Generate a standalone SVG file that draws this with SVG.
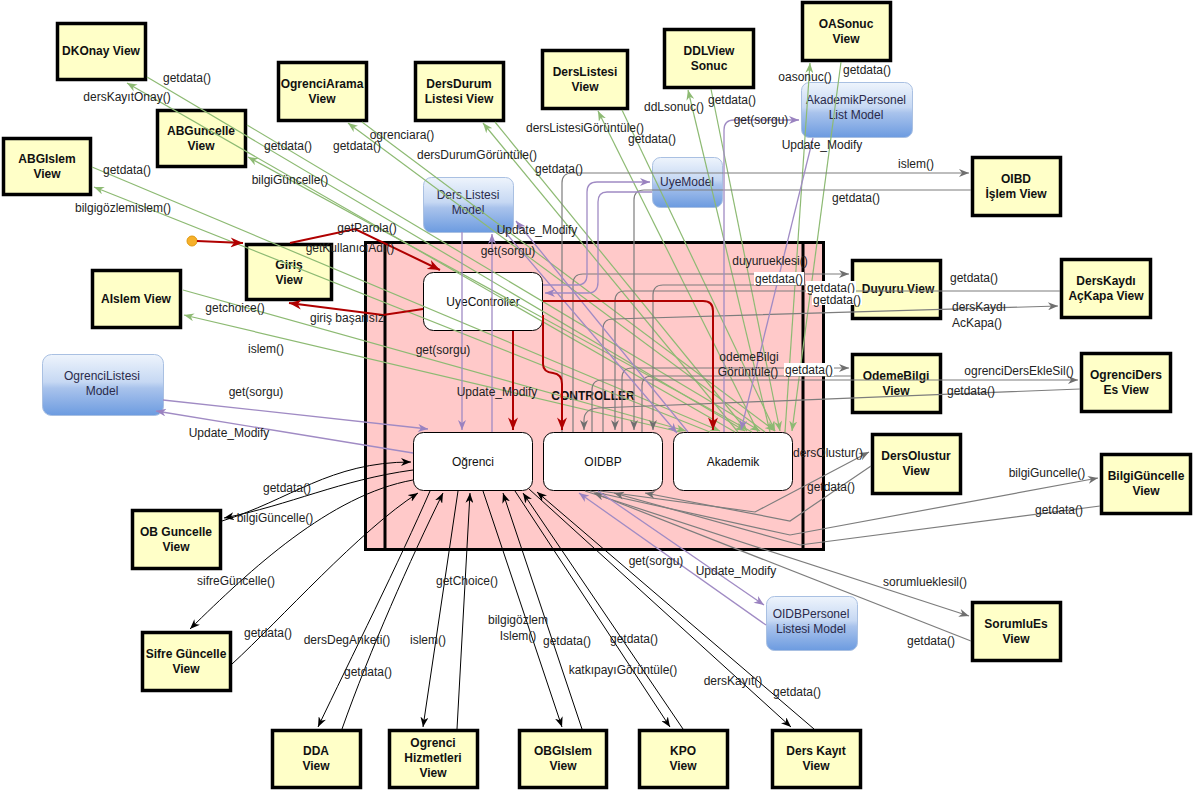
<svg xmlns="http://www.w3.org/2000/svg" width="1194" height="794" viewBox="0 0 1194 794">
<defs>
<style>
.view{fill:#ffffc8;stroke:#000;stroke-width:3.5}
.vt{font-family:"Liberation Sans",Arial,sans-serif;font-size:12px;font-weight:bold;fill:#111;text-anchor:middle}
.model{fill:url(#mg);stroke:#a9c0e2;stroke-width:1}
.mt{font-family:"Liberation Sans",Arial,sans-serif;font-size:12px;fill:#2a2a4a;text-anchor:middle}
.inner{fill:#fff;stroke:#000;stroke-width:1}
.it{font-family:"Liberation Sans",Arial,sans-serif;font-size:12px;fill:#111;text-anchor:middle}
.lb{font-family:"Liberation Sans",Arial,sans-serif;font-size:12px;fill:#222;text-anchor:middle}
.g{fill:none;stroke:#8dba73;stroke-width:1.2}
.gr{fill:none;stroke:#7d7d7d;stroke-width:1.2}
.p{fill:none;stroke:#a08bc4;stroke-width:1.3}
.k{fill:none;stroke:#000;stroke-width:1}
.r{fill:none;stroke:#b00000;stroke-width:2}
</style>
<linearGradient id="mg" x1="0" y1="0" x2="0" y2="1">
<stop offset="0" stop-color="#eef4fc"/>
<stop offset="0.45" stop-color="#c6d8f3"/>
<stop offset="0.55" stop-color="#a9c3ec"/>
<stop offset="1" stop-color="#6c9be0"/>
</linearGradient>
<marker id="ag" viewBox="0 0 10 8" refX="10" refY="4" markerWidth="10" markerHeight="8" markerUnits="userSpaceOnUse" orient="auto"><path d="M0,0 L10,4 L0,8 L3,4 z" fill="#8dba73"/></marker>
<marker id="agr" viewBox="0 0 10 8" refX="10" refY="4" markerWidth="11" markerHeight="8" markerUnits="userSpaceOnUse" orient="auto"><path d="M0,0 L10,4 L0,8 L3,4 z" fill="#6f6f6f"/></marker>
<marker id="ap" viewBox="0 0 10 8" refX="10" refY="4" markerWidth="11" markerHeight="8" markerUnits="userSpaceOnUse" orient="auto"><path d="M0,0 L10,4 L0,8 L3,4 z" fill="#9a82c0"/></marker>
<marker id="ak" viewBox="0 0 10 8" refX="10" refY="4" markerWidth="10" markerHeight="8" markerUnits="userSpaceOnUse" orient="auto"><path d="M0,0 L10,4 L0,8 L3,4 z" fill="#000"/></marker>
<marker id="ar" viewBox="0 0 10 8" refX="10" refY="4" markerWidth="13" markerHeight="10" markerUnits="userSpaceOnUse" orient="auto"><path d="M0,0 L10,4 L0,8 L3,4 z" fill="#b00000"/></marker>
</defs>
<rect width="1194" height="794" fill="#fff"/>

<g id="controller">
<rect x="365.5" y="242.5" width="458" height="307" fill="#ffc9c9" stroke="#000" stroke-width="3"/>
<line x1="385" y1="242" x2="385" y2="550" stroke="#000" stroke-width="3"/>
<line x1="803" y1="242" x2="803" y2="550" stroke="#000" stroke-width="3"/>
<text x="593" y="400" font-family="Liberation Sans,Arial,sans-serif" font-size="12" font-weight="bold" fill="#111" text-anchor="middle">CONTROLLER</text>
</g>
<g id="UyeController"><rect class="inner" x="423.5" y="272.5" width="119" height="58" rx="10"/><text class="it" x="483" y="306">UyeController</text></g>
<g id="Ogrenci"><rect class="inner" x="413.5" y="432.5" width="119" height="58" rx="10"/><text class="it" x="473" y="466">Oğrenci</text></g>
<g id="OIDBP"><rect class="inner" x="543.5" y="432.5" width="119" height="58" rx="10"/><text class="it" x="603" y="466">OIDBP</text></g>
<g id="Akademik"><rect class="inner" x="673.5" y="432.5" width="119" height="58" rx="10"/><text class="it" x="733" y="466">Akademik</text></g>

<g id="DersListesiModel"><rect class="model" x="423.5" y="177.5" width="90" height="55" rx="8"/><text class="mt" x="468" y="199">Ders Listesi</text><text class="mt" x="468" y="214">Model</text></g>
<g id="UyeModel"><rect class="model" x="652.5" y="157.5" width="70" height="50" rx="8"/><text class="mt" x="687" y="186">UyeModel</text></g>
<g id="AkademikPersonelListModel"><rect class="model" x="801.5" y="82.5" width="111" height="55" rx="8"/><text class="mt" x="856" y="104">AkademikPersonel</text><text class="mt" x="856" y="119">List Model</text></g>
<g id="OgrenciListesiModel"><rect class="model" x="42.5" y="354.5" width="121" height="61" rx="9"/><text class="mt" x="102" y="380">OgrenciListesi</text><text class="mt" x="102" y="395">Model</text></g>
<g id="OIDBPersonelListesiModel"><rect class="model" x="766.5" y="596.5" width="91" height="54" rx="8"/><text class="mt" x="811" y="618">OIDBPersonel</text><text class="mt" x="811" y="633">Listesi Model</text></g>

<g id="DKOnayView"><rect class="view" x="57.5" y="23.5" width="88" height="56"/><text class="vt" x="101" y="55">DKOnay View</text></g>
<g id="ABGuncelleView"><rect class="view" x="157.5" y="110.5" width="88" height="56"/><text class="vt" x="201" y="135">ABGuncelle</text><text class="vt" x="201" y="150">View</text></g>
<g id="ABGIslemView"><rect class="view" x="3.5" y="138.5" width="87" height="56"/><text class="vt" x="47" y="163">ABGIslem</text><text class="vt" x="47" y="178">View</text></g>
<g id="OgrenciAramaView"><rect class="view" x="278.5" y="62.5" width="88" height="58"/><text class="vt" x="322" y="88">OgrenciArama</text><text class="vt" x="322" y="103">View</text></g>
<g id="DersDurumListesiView"><rect class="view" x="415.5" y="62.5" width="88" height="58"/><text class="vt" x="459" y="88">DersDurum</text><text class="vt" x="459" y="103">Listesi View</text></g>
<g id="DersListesiView"><rect class="view" x="542.5" y="50.5" width="85" height="58"/><text class="vt" x="585" y="76">DersListesi</text><text class="vt" x="585" y="91">View</text></g>
<g id="DDLViewSonuc"><rect class="view" x="664.5" y="29.5" width="89" height="58"/><text class="vt" x="709" y="55">DDLView</text><text class="vt" x="709" y="70">Sonuc</text></g>
<g id="OASonucView"><rect class="view" x="802.5" y="2.5" width="88" height="58"/><text class="vt" x="846" y="28">OASonuc</text><text class="vt" x="846" y="43">View</text></g>
<g id="OIBDIslemView"><rect class="view" x="972.5" y="157.5" width="88" height="58"/><text class="vt" x="1016" y="183">OIBD</text><text class="vt" x="1016" y="198">İşlem View</text></g>
<g id="GirisView"><rect class="view" x="246.5" y="244.5" width="85" height="55"/><text class="vt" x="289" y="269">Giriş</text><text class="vt" x="289" y="284">View</text></g>
<g id="AIslemView"><rect class="view" x="92.5" y="270.5" width="88" height="57"/><text class="vt" x="136" y="303">AIslem View</text></g>
<g id="OBGuncelleView"><rect class="view" x="132.5" y="510.5" width="88" height="58"/><text class="vt" x="176" y="536">OB Guncelle</text><text class="vt" x="176" y="551">View</text></g>
<g id="SifreGuncelleView"><rect class="view" x="142.5" y="632.5" width="88" height="58"/><text class="vt" x="186" y="658">Sifre Güncelle</text><text class="vt" x="186" y="673">View</text></g>
<g id="DDAView"><rect class="view" x="272.5" y="730.5" width="88" height="57"/><text class="vt" x="316" y="755">DDA</text><text class="vt" x="316" y="770">View</text></g>
<g id="OgrenciHizmetleriView"><rect class="view" x="389.5" y="730.5" width="88" height="57"/><text class="vt" x="433" y="747">Ogrenci</text><text class="vt" x="433" y="762">Hizmetleri</text><text class="vt" x="433" y="777">View</text></g>
<g id="OBGIslemView"><rect class="view" x="519.5" y="730.5" width="87" height="57"/><text class="vt" x="563" y="755">OBGIslem</text><text class="vt" x="563" y="770">View</text></g>
<g id="KPOView"><rect class="view" x="639.5" y="730.5" width="88" height="57"/><text class="vt" x="683" y="755">KPO</text><text class="vt" x="683" y="770">View</text></g>
<g id="DersKayitView"><rect class="view" x="772.5" y="730.5" width="88" height="57"/><text class="vt" x="816" y="755">Ders Kayıt</text><text class="vt" x="816" y="770">View</text></g>
<g id="SorumluEsView"><rect class="view" x="972.5" y="602.5" width="88" height="58"/><text class="vt" x="1016" y="628">SorumluEs</text><text class="vt" x="1016" y="643">View</text></g>
<g id="BilgiGuncelleView"><rect class="view" x="1101.5" y="454.5" width="89" height="59"/><text class="vt" x="1146" y="480">BilgiGüncelle</text><text class="vt" x="1146" y="495">View</text></g>
<g id="DersOlusturView"><rect class="view" x="872.5" y="434.5" width="88" height="59"/><text class="vt" x="916" y="460">DersOlustur</text><text class="vt" x="916" y="475">View</text></g>
<g id="OgrenciDersEsView"><rect class="view" x="1081.5" y="353.5" width="89" height="58"/><text class="vt" x="1126" y="379">OgrenciDers</text><text class="vt" x="1126" y="394">Es View</text></g>
<g id="OdemeBilgiView"><rect class="view" x="852.5" y="354.5" width="88" height="58"/><text class="vt" x="896" y="380">OdemeBilgi</text><text class="vt" x="896" y="395">View</text></g>
<g id="DuyuruView"><rect class="view" x="852.5" y="260.5" width="88" height="58"/><text class="vt" x="898" y="293">Duyuru View</text></g>
<g id="DersKaydiAcKapaView"><rect class="view" x="1061.5" y="259.5" width="89" height="58"/><text class="vt" x="1106" y="285">DersKaydı</text><text class="vt" x="1106" y="300">AçKapa View</text></g>
<g id="start"><circle cx="192" cy="241" r="5" fill="#f6b02a" stroke="#e09a10" stroke-width="1"/></g>

<g id="connectors">
<path class="g" d="M147,77 L745,431" marker-end="url(#ag)"/>
<path class="g" d="M735,432 L127,83" marker-end="url(#ag)"/>
<path class="g" d="M247,125 L760,431" marker-end="url(#ag)"/>
<path class="g" d="M752,432 L248,157" marker-end="url(#ag)"/>
<path class="g" d="M92,167 L720,431" marker-end="url(#ag)"/>
<path class="g" d="M710,432 L94,187" marker-end="url(#ag)"/>
<path class="g" d="M183,290 L686,431" marker-end="url(#ag)"/>
<path class="g" d="M680,432 L184,315" marker-end="url(#ag)"/>
<path class="g" d="M362,122 L775,431" marker-end="url(#ag)"/>
<path class="g" d="M765,432 L348,123" marker-end="url(#ag)"/>
<path class="g" d="M495,122 L747,431" marker-end="url(#ag)"/>
<path class="g" d="M738,432 L483,123" marker-end="url(#ag)"/>
<path class="g" d="M622,110 L775,431" marker-end="url(#ag)"/>
<path class="g" d="M758,432 L598,111" marker-end="url(#ag)"/>
<path class="g" d="M711,89 L780,431" marker-end="url(#ag)"/>
<path class="g" d="M770,432 L688,90" marker-end="url(#ag)"/>
<path class="g" d="M841,62 L792,431" marker-end="url(#ag)"/>
<path class="g" d="M785,432 L810,63" marker-end="url(#ag)"/>
<path class="gr" d="M562,432 V183 Q562,173 572,173 H969" marker-end="url(#agr)"/>
<path class="gr" d="M971,190 H644 Q634,190 634,200 V430" marker-end="url(#agr)"/>
<path class="gr" d="M573,432 V284 Q573,274 583,274 H849" marker-end="url(#agr)"/>
<path class="gr" d="M851,285 H663 Q653,285 653,295 V430" marker-end="url(#agr)"/>
<path class="gr" d="M1060,291 H625 Q615,291 615,301 V430" marker-end="url(#agr)"/>
<path class="gr" d="M603,432 V329 Q603,319 613,319 L1058,306" marker-end="url(#agr)"/>
<path class="gr" d="M622,432 V378 Q622,368 632,368 H849" marker-end="url(#agr)"/>
<path class="gr" d="M851,376 H652 Q642,376 642,386 V432"/>
<path class="gr" d="M592,432 V390 Q592,380 602,380 H1078" marker-end="url(#agr)"/>
<path class="gr" d="M1080,389 L598,408 Q584,409 584,420 V430" marker-end="url(#agr)"/>
<path class="gr" d="M600,491 L755,512 L869,452" marker-end="url(#agr)"/>
<path class="gr" d="M871,466 L790,521 L645,493" marker-end="url(#agr)"/>
<path class="gr" d="M590,491 L790,535 L1098,478" marker-end="url(#agr)"/>
<path class="gr" d="M1100,506 L800,545 L614,493" marker-end="url(#agr)"/>
<path class="gr" d="M585,491 L969,616" marker-end="url(#agr)"/>
<path class="gr" d="M971,641 L594,493" marker-end="url(#agr)"/>
<path class="p" d="M163,400 L428,429" marker-end="url(#ap)"/>
<path class="p" d="M413,453 L156,411" marker-end="url(#ap)"/>
<path class="p" d="M462,232 V430" marker-end="url(#ap)"/>
<path class="p" d="M492,432 V234" marker-end="url(#ap)"/>
<path class="p" d="M505,232 L677,433" marker-end="url(#ap)"/>
<path class="p" d="M688,432 L516,221" marker-end="url(#ap)"/>
<path class="p" d="M543,285 H577 Q587,285 587,275 V192 Q587,182 597,182 H650" marker-end="url(#ap)"/>
<path class="p" d="M652,192 H607 Q598,192 598,202 V282 Q598,293 588,293 H545" marker-end="url(#ap)"/>
<path class="p" d="M724,432 V130 Q724,120 734,120 H799" marker-end="url(#ap)"/>
<path class="p" d="M813,138 L741,430" marker-end="url(#ap)"/>
<path class="p" d="M598,491 L764,605" marker-end="url(#ap)"/>
<path class="p" d="M766,625 L579,493" marker-end="url(#ap)"/>
<path class="k" d="M222,521 C290,500 330,462 411,462" marker-end="url(#ak)"/>
<path class="k" d="M413,470 C340,480 290,505 224,518" marker-end="url(#ak)"/>
<path class="k" d="M413,480 C330,495 250,570 190,629" marker-end="url(#ak)"/>
<path class="k" d="M232,664 C280,620 360,530 418,493" marker-end="url(#ak)"/>
<path class="k" d="M430,491 C400,560 350,660 318,727" marker-end="url(#ak)"/>
<path class="k" d="M342,729 C370,650 410,560 443,493" marker-end="url(#ak)"/>
<path class="k" d="M458,491 L423,727" marker-end="url(#ak)"/>
<path class="k" d="M457,729 L470,493" marker-end="url(#ak)"/>
<path class="k" d="M483,491 L562,727" marker-end="url(#ak)"/>
<path class="k" d="M582,729 L503,493" marker-end="url(#ak)"/>
<path class="k" d="M515,491 L670,727" marker-end="url(#ak)"/>
<path class="k" d="M683,729 L523,493" marker-end="url(#ak)"/>
<path class="k" d="M529,489 L791,727" marker-end="url(#ak)"/>
<path class="k" d="M814,729 L537,492" marker-end="url(#ak)"/>
<path class="r" d="M197,241 L243,243" marker-end="url(#ar)"/>
<path class="r" d="M290,243 L355,229 L440,270" marker-end="url(#ar)"/>
<path class="r" d="M423,309 L383,315 L289,303" marker-end="url(#ar)"/>
<path class="r" d="M513,331 V430" marker-end="url(#ar)"/>
<path class="r" d="M543,315 V364 Q543,372 553,373 Q562,374 562,384 V430" marker-end="url(#ar)"/>
<path class="r" d="M543,301 H703 Q713,301 713,311 V430" marker-end="url(#ar)"/>

<g id="labels">
<text class="lb" x="187" y="82">getdata()</text>
<text class="lb" x="127" y="101">dersKayıtOnay()</text>
<text class="lb" x="288" y="150">getdata()</text>
<text class="lb" x="290" y="184">bilgiGüncelle()</text>
<text class="lb" x="127" y="174">getdata()</text>
<text class="lb" x="123" y="212">bilgigözlemislem()</text>
<text class="lb" x="235" y="312">getchoice()</text>
<text class="lb" x="266" y="353">islem()</text>
<text class="lb" x="357" y="150">getdata()</text>
<text class="lb" x="402" y="139">ogrenciara()</text>
<text class="lb" x="477" y="159">dersDurumGörüntüle()</text>
<text class="lb" x="559" y="173">getdata()</text>
<text class="lb" x="585" y="132">dersListesiGörüntüle()</text>
<text class="lb" x="652" y="143">getdata()</text>
<text class="lb" x="674" y="111">ddLsonuc()</text>
<text class="lb" x="732" y="104">getdata()</text>
<text class="lb" x="805" y="81">oasonuc()</text>
<text class="lb" x="867" y="74">getdata()</text>
<text class="lb" x="761" y="124">get(sorgu)</text>
<text class="lb" x="822" y="149">Update_Modify</text>
<text class="lb" x="916" y="168">islem()</text>
<text class="lb" x="856" y="202">getdata()</text>
<text class="lb" x="537" y="234">Update_Modify</text>
<text class="lb" x="508" y="255">get(sorgu)</text>
<text class="lb" x="367" y="232">getParola()</text>
<text class="lb" x="350" y="252">getKullanıcıAdı()</text>
<text class="lb" x="347" y="322">giriş başarısız</text>
<text class="lb" x="443" y="354">get(sorgu)</text>
<text class="lb" x="497" y="396">Update_Modify</text>
<text class="lb" x="770" y="265">duyurueklesi()</text>
<rect x="754" y="272" width="50" height="13" fill="#fff"/>
<text class="lb" x="779" y="283">getdata()</text>
<rect x="806" y="281" width="50" height="12" fill="#fff"/>
<text class="lb" x="831" y="292">getdata()</text>
<rect x="812" y="293" width="50" height="12" fill="#fff"/>
<text class="lb" x="837" y="304">getdata()</text>
<text class="lb" x="974" y="282">getdata()</text>
<text class="lb" x="979" y="311">dersKaydı</text>
<text class="lb" x="977" y="327">AcKapa()</text>
<text class="lb" x="749" y="361">odemeBilgi</text>
<text class="lb" x="748" y="376">Görüntüle()</text>
<rect x="784" y="363" width="50" height="13" fill="#fff"/>
<text class="lb" x="809" y="374">getdata()</text>
<text class="lb" x="1019" y="375">ogrenciDersEkleSil()</text>
<text class="lb" x="971" y="395">getdata()</text>
<text class="lb" x="828" y="457">dersOlustur()</text>
<text class="lb" x="831" y="491">getdata()</text>
<text class="lb" x="1047" y="477">bilgiGuncelle()</text>
<text class="lb" x="1059" y="514">getdata()</text>
<text class="lb" x="925" y="586">sorumlueklesil()</text>
<text class="lb" x="931" y="645">getdata()</text>
<text class="lb" x="656" y="565">get(sorgu)</text>
<text class="lb" x="736" y="575">Update_Modify</text>
<text class="lb" x="256" y="396">get(sorgu)</text>
<text class="lb" x="229" y="437">Update_Modify</text>
<text class="lb" x="287" y="492">getdata()</text>
<text class="lb" x="275" y="522">bilgiGüncelle()</text>
<text class="lb" x="236" y="585">sifreGüncelle()</text>
<text class="lb" x="268" y="637">getdata()</text>
<text class="lb" x="347" y="644">dersDegAnketi()</text>
<text class="lb" x="368" y="676">getdata()</text>
<text class="lb" x="428" y="644">islem()</text>
<text class="lb" x="467" y="585">getChoice()</text>
<text class="lb" x="518" y="624">bilgigözlem</text>
<text class="lb" x="518" y="640">Islem()</text>
<text class="lb" x="567" y="645">getdata()</text>
<text class="lb" x="623" y="674">katkıpayıGörüntüle()</text>
<text class="lb" x="634" y="643">getdata()</text>
<text class="lb" x="733" y="685">dersKayıt()</text>
<text class="lb" x="797" y="696">getdata()</text>
</g>
</g>
</svg>
